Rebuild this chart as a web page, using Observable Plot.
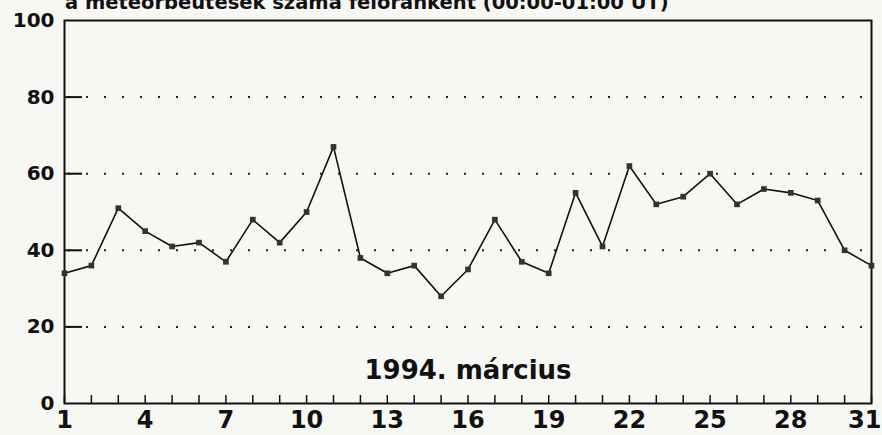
<!DOCTYPE html>
<html><head><meta charset="utf-8">
<script src="https://cdn.jsdelivr.net/npm/d3@7"></script>
<script src="https://cdn.jsdelivr.net/npm/@observablehq/plot@0.6"></script>
<style>
body{margin:0;background:#f7f7f4;overflow:hidden}
#wrap{position:relative;width:882px;height:435px;overflow:hidden}
#title{position:absolute;left:65px;top:-6px;font:bold 19.5px "DejaVu Sans";line-height:18px;white-space:nowrap;color:#111}
svg{display:block}
</style></head><body><div id="wrap"><div id="title"></div></div>
<script>
const titleText = "a meteorbeütések száma félóránként (00:00-01:00 UT)";
const xTitle = "1994. március";
const days = [1,2,3,4,5,6,7,8,9,10,11,12,13,14,15,16,17,18,19,20,21,22,23,24,25,26,27,28,29,30,31];
const counts = [34,36,51,45,41,42,37,48,42,50,67,38,34,36,28,35,48,37,34,55,41,62,52,54,60,52,56,55,53,40,36];
const xTickLabels = [1,4,7,10,13,16,19,22,25,28];
const xLastLabel = [31];
const yTickLabels = [0,20,40,60,80,100];
const gridValues = [20,40,60,80];

document.getElementById("title").textContent = titleText;
const data = days.map((d,i)=>({day:d, count:counts[i]}));
const W = 882, H = 435, mL = 64, mR = 11, mT = 20, mB = 32;
const frameW = W - mL - mR, frameH = H - mT - mB;
const chart = Plot.plot({
  width:W, height:H, marginLeft:mL, marginRight:mR, marginTop:mT, marginBottom:mB,
  style:{background:"transparent", fontFamily:"DejaVu Sans", color:"#111"},
  x:{domain:[1,31], label:null},
  y:{domain:[0,100], label:null},
  marks:[
    Plot.ruleY(gridValues, {stroke:"#222", strokeWidth:2, strokeDasharray:"2,16", strokeDashoffset:-4}),
    Plot.tickY(gridValues, {y:d=>d, stroke:"#111", strokeWidth:2, insetRight:frameW-18}),
    Plot.tickX(days, {x:d=>d, stroke:"#111", strokeWidth:1.5, insetTop:frameH-8}),
    Plot.axisY(yTickLabels, {tickSize:0, tickPadding:10, fontSize:20, fontWeight:"bold"}),
    Plot.axisX(xTickLabels, {tickSize:0, tickPadding:7, fontSize:24, fontWeight:"bold"}),
    Plot.axisX(xLastLabel, {tickSize:0, tickPadding:7, fontSize:24, fontWeight:"bold", textAnchor:"end", dx:10}),
    Plot.frame({stroke:"#111", strokeWidth:2}),
    Plot.line(data, {x:"day", y:"count", stroke:"#111", strokeWidth:1.6}),
    Plot.dot(data, {x:"day", y:"count", symbol:"square", r:3.2, fill:"#333", stroke:null}),
    Plot.text([xTitle], {frameAnchor:"bottom", dy:-25, lineAnchor:"bottom", fontSize:26, fontWeight:"bold", fill:"#111"})
  ]
});
document.getElementById("wrap").appendChild(chart);
</script>
</body></html>
